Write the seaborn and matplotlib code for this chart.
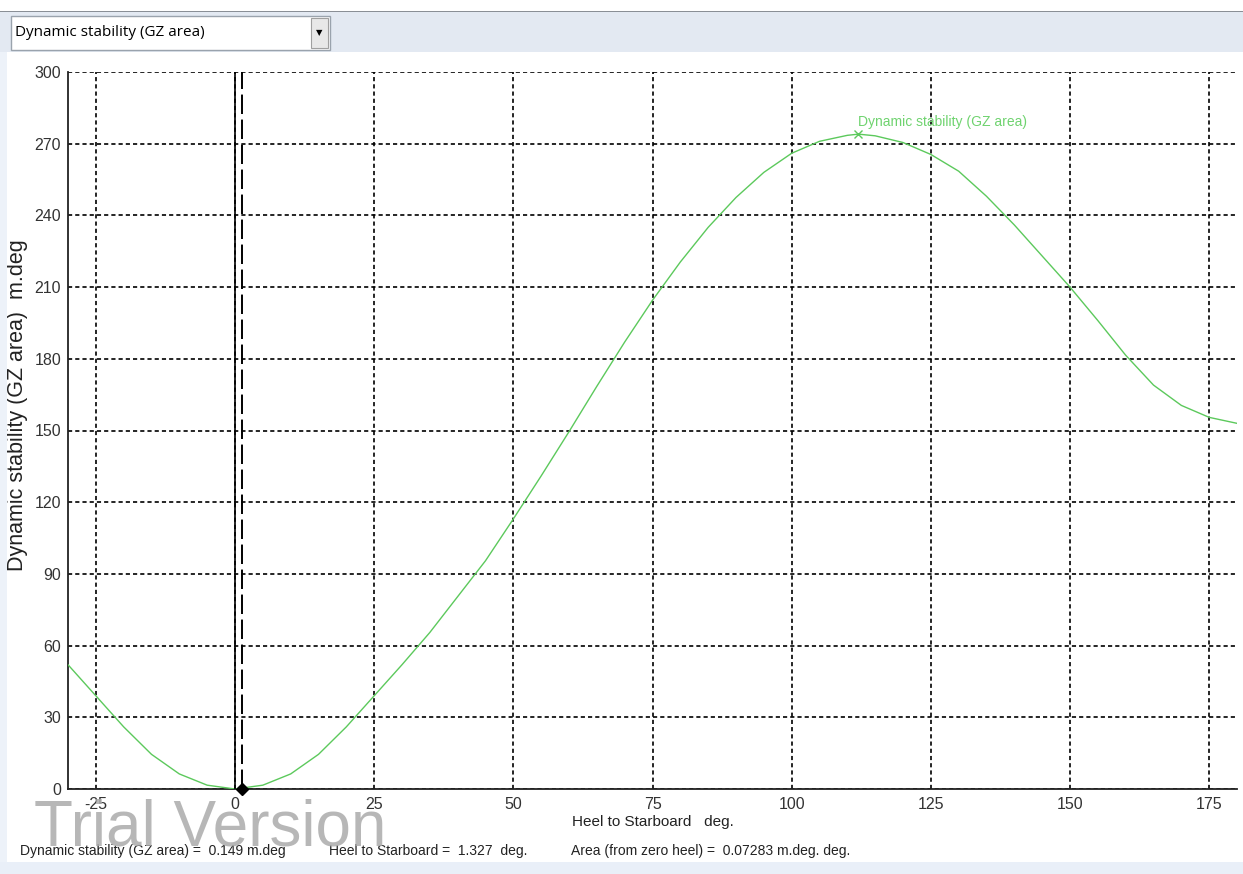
import numpy as np
import pandas as pd
import matplotlib
matplotlib.use("Agg")
import matplotlib.pyplot as plt
from matplotlib.patches import Rectangle
import seaborn as sns

# ---- data ----
heel_deg = [-30, -25, -20, -15, -10, -5, 0, 5, 10, 15, 20, 25, 30, 35, 40, 45,
            50, 55, 60, 65, 70, 75, 80, 85, 90, 95, 100, 105, 110, 112, 115,
            120, 125, 130, 135, 140, 145, 150, 155, 160, 165, 170, 175, 180]
gz_area = [52, 39, 26, 14.5, 6.3, 1.6, 0, 1.6, 6.3, 14.5, 26, 39, 52, 65.5, 80.5, 95.5,
           113, 131, 149.5, 168.5, 187, 204.5, 220.5, 235, 247.5, 258, 266, 271, 273.5, 274, 273.3,
           270.5, 265.5, 258.5, 248, 236, 223, 210, 196, 181.5, 169, 160.5, 155.5, 153]
x_ticks = [-25, 0, 25, 50, 75, 100, 125, 150, 175]
y_ticks = [0, 30, 60, 90, 120, 150, 180, 210, 240, 270, 300]
cursor_heel = 1.327
cursor_value = 0.149
cursor_area = 0.07283
peak_heel = 112
peak_value = 274
series_name = "Dynamic stability (GZ area)"

df = pd.DataFrame({"heel": heel_deg, "area": gz_area})

sns.set_style("white")
plt.rcParams["font.family"] = ["Liberation Sans", "DejaVu Sans"]
plt.rcParams["lines.scale_dashes"] = False

W, H = 1243, 874
fig = plt.figure(figsize=(W / 100, H / 100), dpi=100, facecolor="white")

def fx(px):
    return px / W

def fy(py):
    return 1 - py / H

# ---- window chrome ----
fig.patches.append(Rectangle((0, fy(874)), fx(7), fy(52) - fy(874), transform=fig.transFigure,
                             facecolor="#edf2f9", edgecolor="none", zorder=0))
fig.patches.append(Rectangle((0, fy(874)), 1, fy(862) - fy(874), transform=fig.transFigure,
                             facecolor="#e9eff8", edgecolor="none", zorder=0))
fig.patches.append(Rectangle((0, fy(52)), 1, fy(12) - fy(52), transform=fig.transFigure,
                             facecolor="#e3e9f2", edgecolor="none", zorder=0))
fig.patches.append(Rectangle((0, fy(12)), 1, fy(11) - fy(12), transform=fig.transFigure,
                             facecolor="#8a8f96", edgecolor="none", zorder=0))
fig.patches.append(Rectangle((fx(11), fy(50)), fx(319), fy(16) - fy(50), transform=fig.transFigure,
                             facecolor="white", edgecolor="#9aa3ad", linewidth=1, zorder=1))
fig.patches.append(Rectangle((fx(311), fy(48)), fx(17), fy(18) - fy(48), transform=fig.transFigure,
                             facecolor="#e8e8e8", edgecolor="#a0a0a0", linewidth=0.8, zorder=2))
fig.text(fx(319.5), fy(33), "\u25BC", ha="center", va="center", fontsize=6, color="black",
         family=["DejaVu Sans"], zorder=3)
fig.text(fx(15), fy(33), series_name, ha="left", va="center", fontsize=11, color="black",
         family=["Open Sans", "DejaVu Sans"], zorder=3)

# ---- plot ----
ax = fig.add_axes([fx(68), fy(789), fx(1237 - 68), fy(72) - fy(789)])
ax.set_facecolor("white")
sns.lineplot(data=df, x="heel", y="area", ax=ax, color="#5cc95c", linewidth=1.0, zorder=4)

ax.set_xlim(-30, 180)
ax.set_ylim(0, 300)
ax.set_xticks(x_ticks)
ax.set_yticks(y_ticks)
ax.set_xticklabels([str(v) for v in x_ticks])
ax.set_yticklabels([str(v) for v in y_ticks])
ax.grid(True, color="black", linestyle=(0, (3.0, 2.2)), linewidth=1.2)
ax.set_axisbelow(True)
for s in ["top", "right"]:
    ax.spines[s].set_visible(False)
for s in ["left", "bottom"]:
    ax.spines[s].set_color("#222222")
    ax.spines[s].set_linewidth(1.3)
ax.tick_params(axis="both", direction="inout", length=8, width=1.0, color="#222222",
               labelsize=11.5, labelcolor="#333333", pad=2)
ax.tick_params(axis="y", pad=1)

ax.set_xlabel("Heel to Starboard   deg.", fontsize=11, color="#222222", labelpad=2)
ax.set_ylabel(series_name + "  m.deg", fontsize=15.5, color="#222222")
ax.yaxis.set_label_coords(-0.034, 0.535)

# zero heel line and cursor
ax.axvline(0, color="black", linewidth=1.2, zorder=5)
ax.axvline(cursor_heel, color="black", linewidth=1.4, linestyle=(0, (14, 4)), zorder=5)
ax.plot([cursor_heel], [cursor_value], marker="D", color="black", markersize=6.5, zorder=6,
        clip_on=False)

# peak marker and series label
ax.plot([peak_heel], [peak_value], marker="x", color="#5cc95c", markersize=6, mew=1, zorder=6)
ax.annotate(series_name, (peak_heel, peak_value), xytext=(0, 4), textcoords="offset points",
            ha="left", va="bottom", fontsize=10, color="#6fd36f", zorder=6)

# watermark
fig.text(fx(34), fy(845), "Trial Version", ha="left", va="baseline", fontsize=46,
         color="#ababab", alpha=0.85, zorder=10)

# status line
fig.text(fx(20), fy(851), f"{series_name} =  {cursor_value} m.deg", ha="left", va="center",
         fontsize=10, color="#222222")
fig.text(fx(329), fy(851), f"Heel to Starboard =  {cursor_heel}  deg.", ha="left", va="center",
         fontsize=10, color="#222222")
fig.text(fx(571), fy(851), f"Area (from zero heel) =  {cursor_area} m.deg. deg.", ha="left",
         va="center", fontsize=10, color="#222222")

fig.savefig("out.png", dpi=100, facecolor="white")
